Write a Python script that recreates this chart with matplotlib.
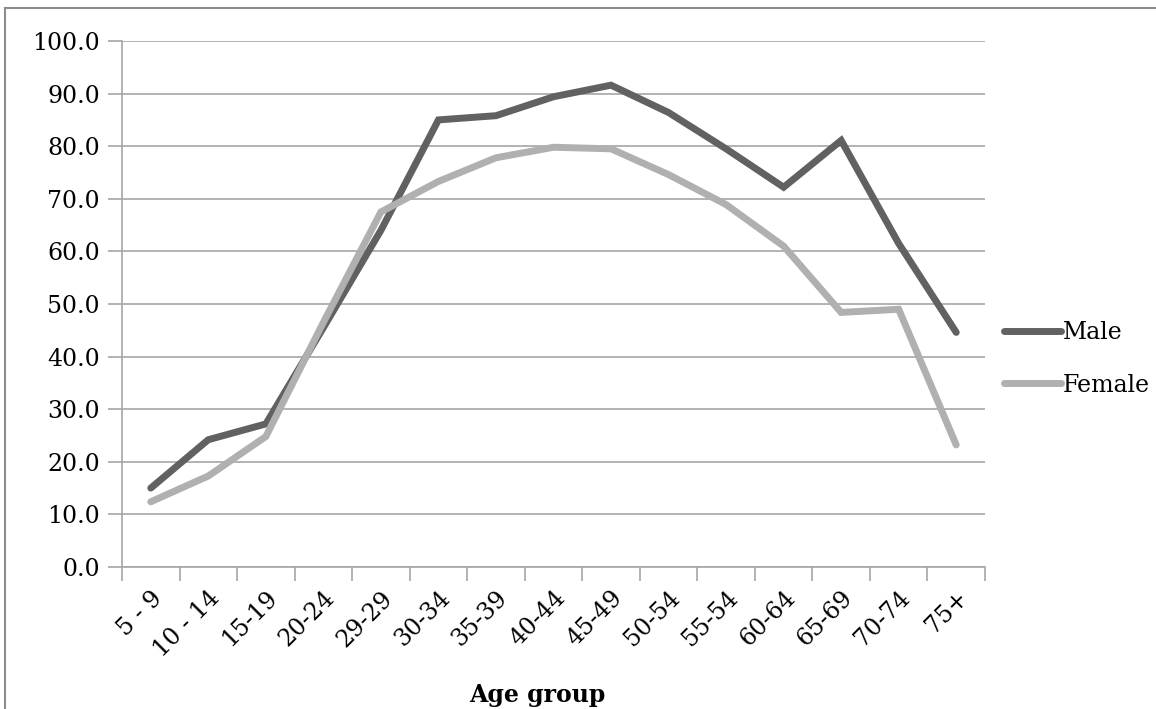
import matplotlib
matplotlib.use("Agg")
import matplotlib.pyplot as plt
from matplotlib.lines import Line2D

age_groups = ["5 - 9", "10 - 14", "15-19", "20-24", "29-29", "30-34", "35-39", "40-44",
              "45-49", "50-54", "55-54", "60-64", "65-69", "70-74", "75+"]
male = [15.0, 24.2, 27.2, 45.5, 64.0, 85.0, 85.8, 89.4, 91.6, 86.4, 79.5, 72.2, 81.1, 61.5, 44.6]
female = [12.4, 17.3, 24.8, 46.5, 67.5, 73.3, 77.8, 79.8, 79.5, 74.6, 68.9, 61.0, 48.4, 49.0, 23.2]

W, H = 1156, 709
fig = plt.figure(figsize=(W / 100, H / 100), dpi=100)
plt.rcParams["font.family"] = ["DejaVu Serif"]
fs = 17

ax = fig.add_axes([122 / W, 1 - 567 / H, (985 - 122) / W, (567 - 41) / H])

x = list(range(len(age_groups)))
ax.plot(x, male, color="#616161", lw=5, solid_capstyle="round", solid_joinstyle="miter", label="Male", zorder=3)
ax.plot(x, female, color="#b0b0b0", lw=5, solid_capstyle="round", solid_joinstyle="miter", label="Female", zorder=3)

ax.set_xlim(-0.5, len(age_groups) - 0.5)
ax.set_ylim(0, 100)
ax.set_yticks(range(0, 101, 10))
ax.set_yticklabels([f"{v:.1f}" for v in range(0, 101, 10)], fontsize=fs)
ax.yaxis.grid(True, color="#a6a6a6", lw=1.2)
ax.set_axisbelow(True)

ax.set_xticks([i - 0.5 for i in range(len(age_groups) + 1)])
ax.set_xticklabels([])
ax.set_xticks(x, minor=True)
ax.set_xticklabels(age_groups, minor=True, rotation=45, ha="right", va="top",
                   rotation_mode="anchor", fontsize=fs)
ax.tick_params(axis="x", which="minor", length=0, pad=14)
ax.tick_params(axis="x", which="major", length=10, width=1.2, color="#a6a6a6")
ax.tick_params(axis="y", length=10, width=1.2, color="#a6a6a6", pad=6)

for side in ["top", "right"]:
    ax.spines[side].set_visible(False)
for side in ["left", "bottom"]:
    ax.spines[side].set_color("#a6a6a6")
    ax.spines[side].set_linewidth(1.2)

fig.text(537 / W, 1 - 702 / H, "Age group", fontsize=fs, fontweight="bold", ha="center", va="baseline")

fig.legend(loc="center left", bbox_to_anchor=(1004 / W, 1 - 359 / H), frameon=False,
           fontsize=fs, handlelength=2.4, handletextpad=0.1, borderpad=0, borderaxespad=0,
           labelspacing=1.25)

# outer chart frame
fig.add_artist(Line2D([5 / W, 5 / W], [0, 1 - 8 / H], transform=fig.transFigure, color="#8c8c8c", lw=1.5))
fig.add_artist(Line2D([5 / W, 1], [1 - 8 / H, 1 - 8 / H], transform=fig.transFigure, color="#8c8c8c", lw=1.5))

fig.savefig("out.png", dpi=100)
